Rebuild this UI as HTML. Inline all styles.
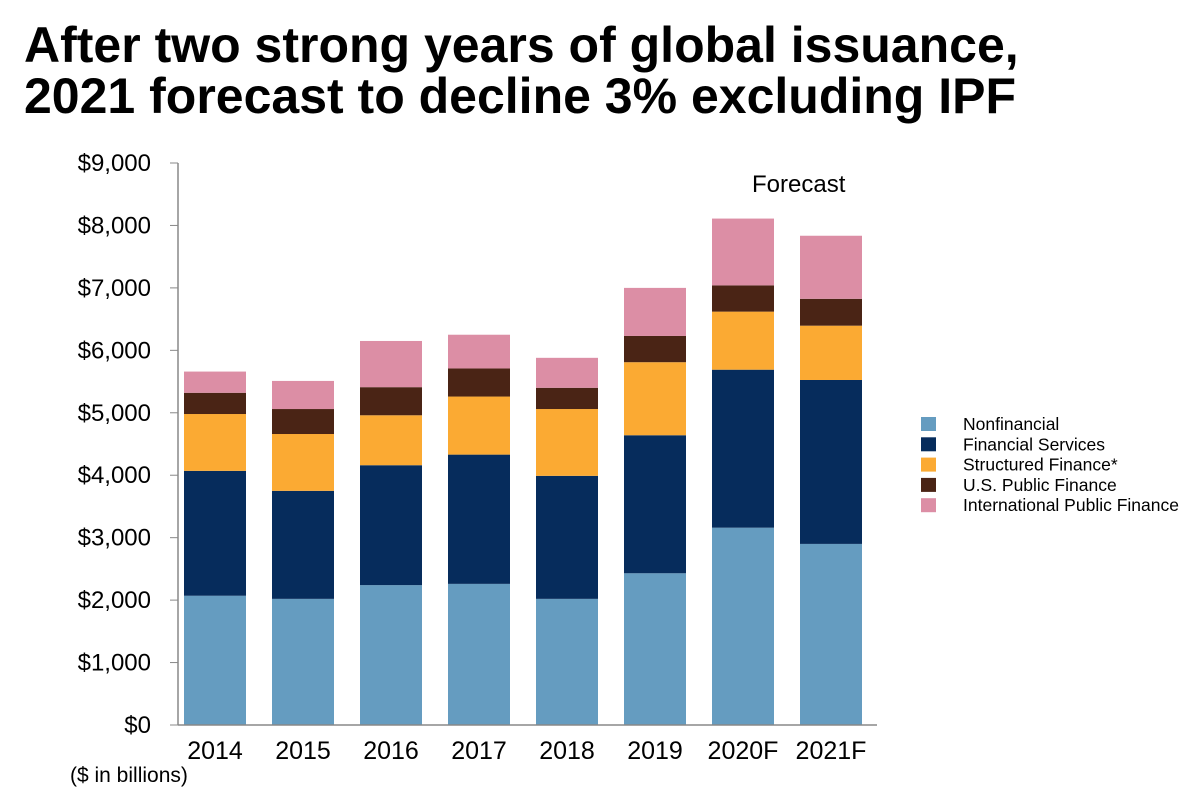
<!DOCTYPE html>
<html><head><meta charset="utf-8"><style>
body{margin:0;background:#fff;width:1200px;height:799px;overflow:hidden;font-family:"Liberation Sans",Arial,sans-serif}
</style></head><body>
<svg id="chart" width="1200" height="799" style="position:absolute;left:0;top:0">
<text x="24" y="62" font-size="50" font-weight="bold" fill="#000">After two strong years of global issuance,</text>
<text x="24" y="113" font-size="50" font-weight="bold" fill="#000">2021 forecast to decline 3% excluding IPF</text>
</svg>
<script>
const categories=["2014","2015","2016","2017","2018","2019","2020F","2021F"];
const seriesNames=["Nonfinancial","Financial Services","Structured Finance*","U.S. Public Finance","International Public Finance"];
const nonfinancial=[2070,2020,2240,2260,2020,2430,3160,2900];
const financialServices=[2000,1730,1920,2070,1970,2210,2530,2625];
const structuredFinance=[910,910,800,930,1070,1170,930,870];
const usPublicFinance=[340,400,450,450,340,420,420,430];
const intlPublicFinance=[340,450,740,540,480,770,1070,1010];
const yTicks=[0,1000,2000,3000,4000,5000,6000,7000,8000,9000];
const yTickLabels=["$0","$1,000","$2,000","$3,000","$4,000","$5,000","$6,000","$7,000","$8,000","$9,000"];
const colors=["#659cc0","#062c5c","#fbaa33","#4a2415","#dc8ea5"];
const series=[nonfinancial,financialServices,structuredFinance,usPublicFinance,intlPublicFinance];
const NS="http://www.w3.org/2000/svg",svg=document.getElementById('chart');
const y0=725,y1=163,vmax=9000;
const y=v=>y0-(v/vmax)*(y0-y1);
const x=i=>184+i*88;
const bw=62;
function mk(t,a,txt){const e=document.createElementNS(NS,t);for(const k in a)e.setAttribute(k,a[k]);if(txt!==undefined)e.textContent=txt;svg.appendChild(e);return e;}
yTicks.forEach((v,i)=>{
 const l=mk('line',{x1:170,x2:178,y1:y(v),y2:y(v),stroke:'#888','stroke-width':1});
 
 
 const t=mk('text',{x:151,y:y(v)+8,'text-anchor':'end','font-size':24,fill:'#000'},yTickLabels[i]);
 
 
});
categories.forEach((c,i)=>{
 let acc=0;
 series.forEach((s,j)=>{
  const r=mk('rect',{x:x(i),y:y(acc+s[i]),width:bw,height:y(acc)-y(acc+s[i]),fill:colors[j]});
  
  
  acc+=s[i];
 });
 const t=mk('text',{x:x(i)+bw/2,y:759,'text-anchor':'middle','font-size':25,fill:'#000'},c);
 
 
});
const ax=mk('line',{x1:178,x2:178,y1:163,y2:725,stroke:'#888','stroke-width':1.5});


const bx=mk('line',{x1:178,x2:877,y1:725,y2:725,stroke:'#888','stroke-width':1.5});


const fc=mk('text',{x:752,y:192,'font-size':24,fill:'#000'},'Forecast');


const un=mk('text',{x:70,y:782,'font-size':21,fill:'#000'},'($ in billions)');


seriesNames.forEach((n,j)=>{
 const ly=424+j*20.3;
 const r=mk('rect',{x:921,y:ly-7,width:15,height:14,fill:colors[j]});
 
 
 const t=mk('text',{x:963,y:ly+6,'font-size':17.5,fill:'#000'},n);
 
 
});
</script>
</body></html>
